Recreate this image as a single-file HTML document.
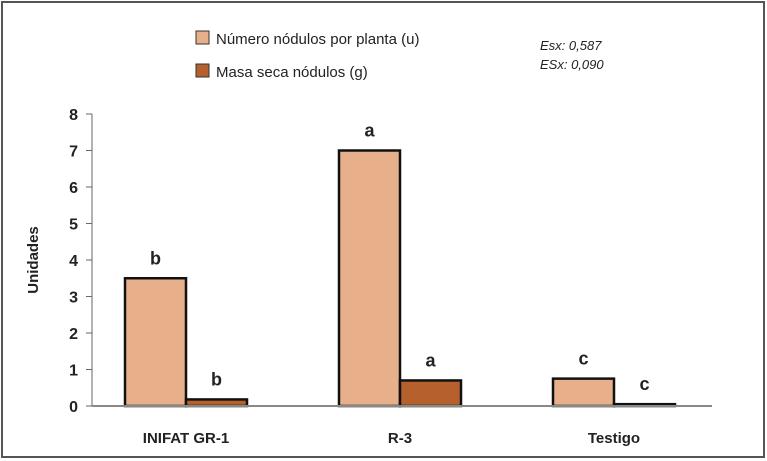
<!DOCTYPE html>
<html><head><meta charset="utf-8"><style>
body{margin:0;background:#fff;}
svg{display:block;font-family:"Liberation Sans",sans-serif;}
</style></head><body>
<svg id="c" width="767" height="461">
<rect x="2" y="2" width="762" height="455" fill="#fff" stroke="#555" stroke-width="2"/>
<rect x="196" y="31" width="13" height="13" fill="#e8b08a" stroke="#333"/>
<text x="216" y="44" font-size="15" fill="#222">Número nódulos por planta (u)</text>
<rect x="196" y="64" width="13" height="13" fill="#b5602d" stroke="#333"/>
<text x="216" y="77" font-size="15" fill="#222">Masa seca nódulos (g)</text>
<text x="540" y="50" font-size="13" font-style="italic" fill="#222">Esx: 0,587</text>
<text x="540" y="69" font-size="13" font-style="italic" fill="#222">ESx: 0,090</text>
<text transform="translate(38,260) rotate(-90)" text-anchor="middle" font-size="15" font-weight="bold" fill="#222">Unidades</text>
<g id="g"></g>
</svg>
<script>
const categories=["INIFAT GR-1","R-3","Testigo"];
const numero=[3.5,7,0.75];
const masa=[0.18,0.7,0.05];
const numLetters=["b","a","c"];
const masaLetters=["b","a","c"];
const ticks=[0,1,2,3,4,5,6,7,8];
const g=document.getElementById('g');
const NS="http://www.w3.org/2000/svg";
const y0=406,y8=114,xL=92,xR=712;
const y=v=>y0-(y0-y8)*v/8;
const groupX=i=>125+i*214;
const bw=61;
function mk(t,a,txt){const e=document.createElementNS(NS,t);for(const k in a)e.setAttribute(k,a[k]);if(txt!=null)e.textContent=txt;g.appendChild(e);return e;}
let e=mk('line',{x1:xL,y1:y8,x2:xL,y2:y0,stroke:'#666'});


ticks.forEach(t=>{
 let l=mk('line',{x1:xL-6,y1:y(t),x2:xL,y2:y(t),stroke:'#666'});
 
 
 let tx=mk('text',{x:xL-14,y:y(t)+6,'text-anchor':'end','font-size':16,'font-weight':'bold',fill:'#222'},t);
 
 
});
categories.forEach((c,i)=>{
 const x=groupX(i);
 let b=mk('rect',{x:x,y:y(numero[i]),width:bw,height:y0-y(numero[i]),fill:'#e8b08a',stroke:'#111','stroke-width':2.5});
 
 
 let b2=mk('rect',{x:x+bw,y:y(masa[i]),width:bw,height:y0-y(masa[i]),fill:'#b5602d',stroke:'#111','stroke-width':2.5});
 
 
 let l1=mk('text',{x:x+bw/2,y:y(numero[i])-14,'text-anchor':'middle','font-size':18,'font-weight':'bold',fill:'#222'},numLetters[i]);
 
 
 let l2=mk('text',{x:x+bw*1.5,y:y(masa[i])-14,'text-anchor':'middle','font-size':18,'font-weight':'bold',fill:'#222'},masaLetters[i]);
 
 
 let cl=mk('text',{x:x+bw,y:443,'text-anchor':'middle','font-size':15,'font-weight':'bold',fill:'#222'},c);
 
 
});
e=mk('line',{x1:xL,y1:y0,x2:xR,y2:y0,stroke:'#888','stroke-width':2});


</script>
</body></html>
